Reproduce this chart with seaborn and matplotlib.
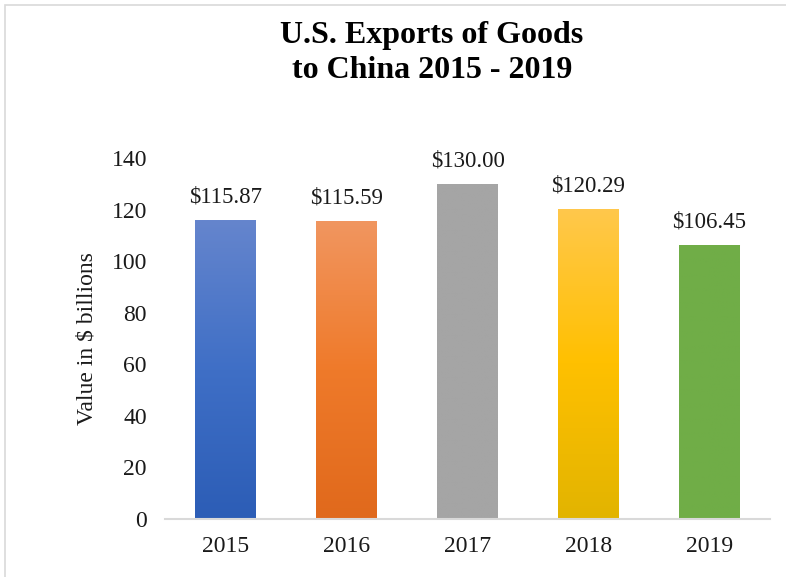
import numpy as np
import pandas as pd
import matplotlib
matplotlib.use("Agg")
import matplotlib.pyplot as plt
from matplotlib.colors import LinearSegmentedColormap
from matplotlib.patches import Rectangle
import seaborn as sns

# Export values (billions of dollars)
years = ["2015", "2016", "2017", "2018", "2019"]
values = [115.87, 115.59, 130.00, 120.29, 106.45]
# top / middle / bottom shades for each bar
bar_tops = ["#6585CD", "#F19660", "#A5A5A5", "#FFC84C", "#70AD47"]
bar_mids = ["#3F6FC6", "#EF7A2A", "#A5A5A5", "#FFC000", "#70AD47"]
bar_bottoms = ["#2C5DB6", "#E0691C", "#A5A5A5", "#E2B400", "#70AD47"]
y_ticks = [0, 20, 40, 60, 80, 100, 120, 140]

df = pd.DataFrame({"year": years, "value": values})

sns.set_theme(style="white")
plt.rcParams["font.family"] = ["Liberation Serif", "DejaVu Serif"]

fig = plt.figure(figsize=(7.86, 5.77), dpi=100)
fig.patch.set_facecolor("white")

# outer chart frame
fig.add_artist(Rectangle((5 / 786, -0.05), 1.2, 1 - 5 / 577 + 0.05,
                         transform=fig.transFigure, fill=False,
                         edgecolor="#D9D9D9", linewidth=1.2))

ax = fig.add_axes([165 / 786, 1 - 519 / 577, (770 - 165) / 786, (519 - 158) / 577])
sns.barplot(data=df, x="year", y="value", hue="year", palette=bar_mids,
            width=0.5, legend=False, ax=ax, saturation=1)

ax.set_ylim(0, 140)
ax.set_xlim(-0.5, 4.5)
ax.set_yticks(y_ticks)

# vertical gradients clipped to each bar
for patch, top, mid, bot in zip(ax.patches, bar_tops, bar_mids, bar_bottoms):
    x0 = patch.get_x()
    w = patch.get_width()
    h = patch.get_height()
    cmap = LinearSegmentedColormap.from_list("g", [bot, mid, top])
    grad = np.linspace(0, 1, 256).reshape(-1, 1)
    im = ax.imshow(grad, cmap=cmap, origin="lower", aspect="auto",
                   extent=[x0, x0 + w, 0, h], zorder=patch.get_zorder() + 0.1)
    im.set_clip_path(patch)

ax.set_ylim(0, 140)
ax.set_xlim(-0.5, 4.5)

# value labels
for i, v in enumerate(values):
    ax.annotate(f"${v:,.2f}", (i, v), xytext=(0, 9), textcoords="offset points",
                ha="center", va="bottom", fontsize=16.5, color="#1a1a1a")

for s in ["top", "right", "left"]:
    ax.spines[s].set_visible(False)
ax.spines["bottom"].set_color("#D9D9D9")
ax.spines["bottom"].set_linewidth(1.5)
ax.tick_params(axis="both", length=0, labelsize=17, labelcolor="#1a1a1a")
ax.tick_params(axis="y", pad=13)
ax.tick_params(axis="x", pad=12)
ax.set_xlabel("")
ax.set_ylabel("Value in $ billions", fontsize=17, color="#1a1a1a", labelpad=10)
ax.grid(False)
ax.set_facecolor("white")

fig.text(432 / 786, 1 - 35 / 577, "U.S. Exports of Goods", ha="center", va="center",
         fontsize=23, fontweight="bold", color="black")
fig.text(432 / 786, 1 - 71 / 577, "to China 2015 - 2019", ha="center", va="center",
         fontsize=23, fontweight="bold", color="black")

fig.savefig("out.png", dpi=100, facecolor="white")
